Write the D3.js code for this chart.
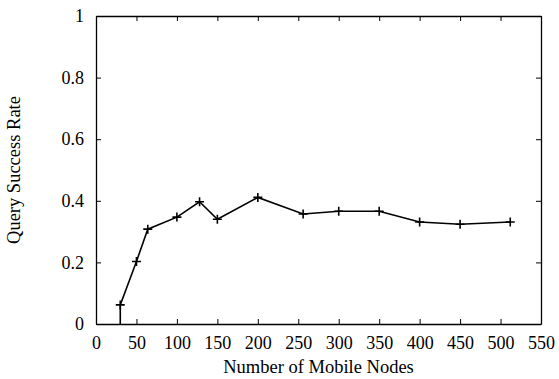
<!DOCTYPE html>
<html>
<head>
<meta charset="utf-8">
<script src="https://cdn.jsdelivr.net/npm/d3@7"></script>
<style>
  html, body { margin: 0; padding: 0; background: #fff; }
  svg text { font-family: "Liberation Serif", "Times New Roman", serif; fill: #000; }
</style>
</head>
<body>
<svg id="chart" width="559" height="379"></svg>
<script>
// Query success rate versus number of mobile nodes
const nodes = [30, 30, 50, 64, 100, 128, 150, 200, 256, 300, 350, 400, 450, 512];
const successRate = [0, 0.062, 0.203, 0.308, 0.347, 0.397, 0.340, 0.411, 0.357, 0.366, 0.366, 0.331, 0.324, 0.331];
const xTicks = [0, 50, 100, 150, 200, 250, 300, 350, 400, 450, 500, 550];
const yTicks = [0, 0.2, 0.4, 0.6, 0.8, 1];
const xTitle = "Number of Mobile Nodes";
const yTitle = "Query Success Rate";

const margin = { left: 96, right: 18, top: 16, bottom: 55 };
const W = 559, H = 379;
const svg = d3.select("#chart");

const x = d3.scaleLinear().domain([0, 550]).range([margin.left, W - margin.right]);
const y = d3.scaleLinear().domain([0, 1]).range([H - margin.bottom, margin.top]);

const tickLen = 5;
const fontSize = 18;
const titleSize = 18.5;
const serif = "'Liberation Serif', 'Times New Roman', serif";

// Axes: ticks point inward and are mirrored on the opposite sides
const axBottom = svg.append("g")
  .attr("transform", `translate(0,${y(0)})`)
  .call(d3.axisBottom(x).tickValues(xTicks).tickSizeInner(-tickLen).tickSizeOuter(0).tickPadding(12).tickFormat(d3.format("d")));
const axTop = svg.append("g")
  .attr("transform", `translate(0,${y(1)})`)
  .call(d3.axisTop(x).tickValues(xTicks).tickSizeInner(-tickLen).tickSizeOuter(0).tickFormat(""));
const axLeft = svg.append("g")
  .attr("transform", `translate(${x(0)},0)`)
  .call(d3.axisLeft(y).tickValues(yTicks).tickSizeInner(-tickLen).tickSizeOuter(0).tickPadding(12).tickFormat(d => String(+d.toFixed(1))));
const axRight = svg.append("g")
  .attr("transform", `translate(${x(550)},0)`)
  .call(d3.axisRight(y).tickValues(yTicks).tickSizeInner(-tickLen).tickSizeOuter(0).tickFormat(""));

[axBottom, axTop, axLeft, axRight].forEach(g => {
  g.attr("font-family", serif).attr("font-size", fontSize);
  g.select(".domain").attr("stroke", "#000").attr("stroke-width", 1.3);
  g.selectAll(".tick line").attr("stroke", "#000").attr("stroke-width", 1);
  g.selectAll("text").style("font-family", serif).style("font-size", fontSize + "px").attr("fill", "#000");
});

// Data line
const plot = svg.append("g");
plot.append("clipPath").attr("id", "plotclip")
  .append("rect")
  .attr("x", x(0)).attr("y", y(1))
  .attr("width", x(550) - x(0)).attr("height", y(0) - y(1));

const pts = nodes.map((n, i) => [n, successRate[i]]);
plot.append("path")
  .datum(pts)
  .attr("clip-path", "url(#plotclip)")
  .attr("fill", "none")
  .attr("stroke", "#000")
  .attr("stroke-width", 1.6)
  .attr("stroke-linejoin", "miter")
  .attr("d", d3.line().x(d => x(d[0])).y(d => y(d[1])));

// Plus markers for the measured points
const m = 4.5;
plot.selectAll("path.mark")
  .data(pts.filter(d => d[1] > 0))
  .join("path")
  .attr("class", "mark")
  .attr("fill", "none")
  .attr("stroke", "#000")
  .attr("stroke-width", 1.6)
  .attr("d", d => {
    const cx = x(d[0]), cy = y(d[1]);
    return `M${cx - m},${cy}H${cx + m}M${cx},${cy - m}V${cy + m}`;
  });

// Axis titles
svg.append("text")
  .attr("x", (x(0) + x(550)) / 2)
  .attr("y", 373)
  .attr("text-anchor", "middle")
  .style("font-family", serif)
  .style("font-size", titleSize + "px")
  .text(xTitle);

svg.append("text")
  .attr("transform", `translate(20,${(y(0) + y(1)) / 2}) rotate(-90)`)
  .attr("text-anchor", "middle")
  .style("font-family", serif)
  .style("font-size", titleSize + "px")
  .text(yTitle);
</script>
</body>
</html>
